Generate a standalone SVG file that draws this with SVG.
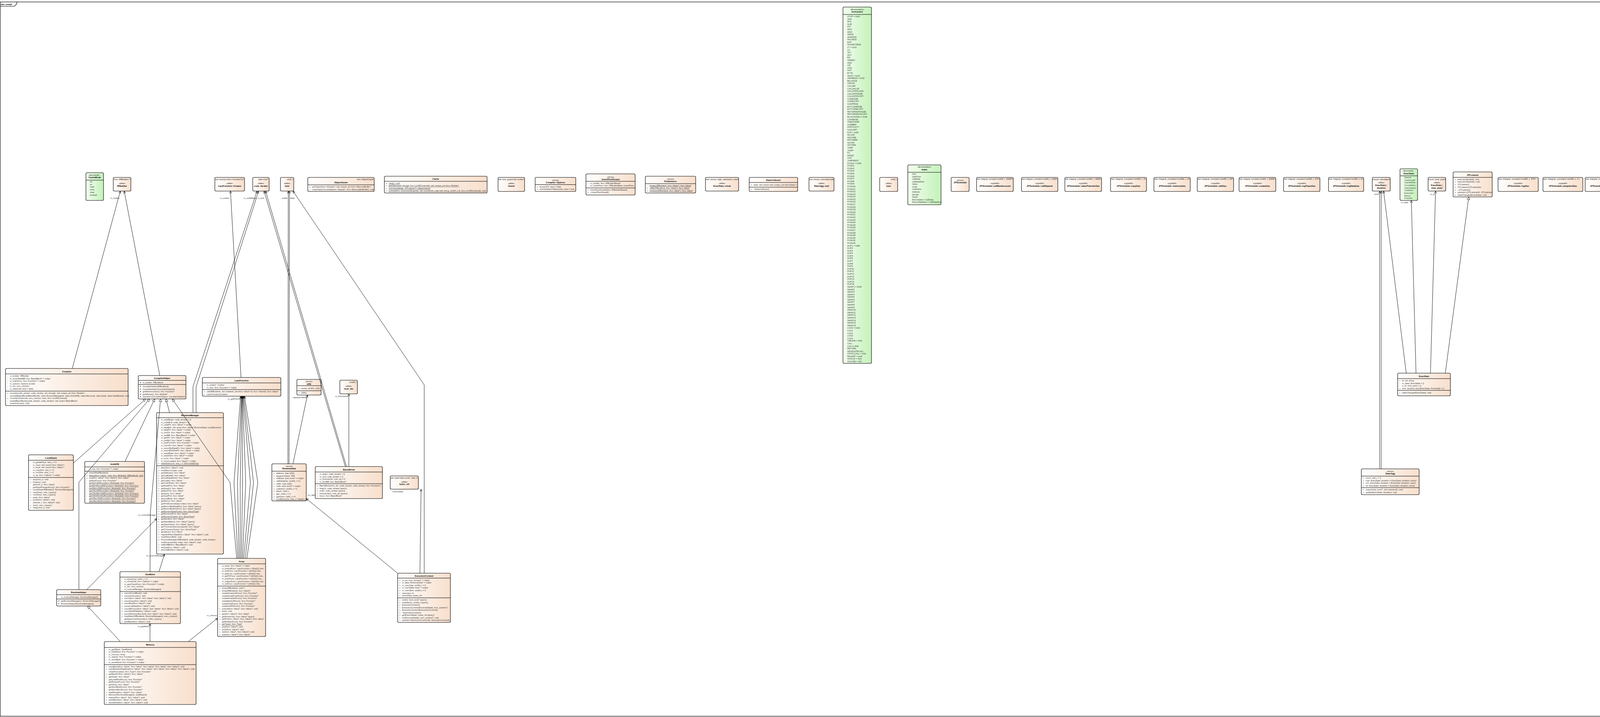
<svg xmlns="http://www.w3.org/2000/svg" width="6533" height="1835" viewBox="0 0 6533 1835">
<defs>
<linearGradient id="gc" x1="0" y1="0" x2="1" y2="0"><stop offset="0" stop-color="#ffffff"/><stop offset="1" stop-color="#f8dfcc"/></linearGradient>
<linearGradient id="ge" x1="0" y1="0" x2="1" y2="0"><stop offset="0" stop-color="#f2fdef"/><stop offset="1" stop-color="#c4f2b9"/></linearGradient>
<marker id="oa" viewBox="0 0 10 10" refX="10" refY="5" markerWidth="6.5" markerHeight="6.5" orient="auto" markerUnits="userSpaceOnUse"><path d="M0.5,0.8L10,5L0.5,9.2" fill="none" stroke="#000" stroke-width="1.4"/></marker>
<marker id="tri" viewBox="0 0 10 10" refX="10" refY="5" markerWidth="7.5" markerHeight="7.5" orient="auto" markerUnits="userSpaceOnUse"><path d="M0.6,0.6L10,5L0.6,9.4Z" fill="#fff" stroke="#000" stroke-width="1.1"/></marker>
</defs>
<style>
text{font-family:"Liberation Sans",Arial,sans-serif}
.c{fill:url(#gc);stroke:#000;stroke-width:1.1}
.e{fill:url(#ge);stroke:#000;stroke-width:1.1}
.d{stroke:#000;stroke-width:1;fill:none}
.m{font-size:5.4px;fill:#3a3a3a}
.n{font-size:5.6px;font-weight:bold;text-anchor:middle;fill:#000}
.s{font-size:5.2px;text-anchor:middle;fill:#222}
.t{font-size:5.2px;font-style:italic;text-anchor:end;fill:#222}
.tl{font-size:5.2px;font-style:italic;fill:#222}
.u{text-decoration:underline}
.i{font-style:italic}
.k{stroke:#000;stroke-width:0.9;fill:none}
.oa{marker-end:url(#oa)}
.tr{marker-end:url(#tri)}
.l{font-size:5.2px;fill:#3a3a3a}
.lr{font-size:5.2px;fill:#3a3a3a;text-anchor:end}
</style>
<rect x="0.5" y="5" width="6526" height="1828" fill="#fff" stroke="#000" stroke-width="1.2"/>
<path d="M0.5,16H37L43,10V5" fill="none" stroke="#000" stroke-width="1.1"/>
<text x="2" y="12.8" font-size="5.4" font-weight="bold" fill="#000" font-family="Liberation Sans, Arial, sans-serif">dev::evmjit</text>

<g id="nodes">
<g id="n-CacheMode" transform="translate(220,442)"><rect class="e" width="45" height="71" rx="3"/><text class="s" x="22.5" y="7.5">«Enumerati...</text><text class="n" x="22.5" y="13.5">CacheMode</text><path class="d" d="M0,19H45"/><text class="m"><tspan x="10" y="25">off</tspan><tspan x="10" dy="6.7">on</tspan><tspan x="10" dy="6.7">read</tspan><tspan x="10" dy="6.7">write</tspan><tspan x="10" dy="6.7">clear</tspan><tspan x="10" dy="6.7">preload</tspan></text></g>

<g id="n-IRBuilder" transform="translate(290,454)"><rect class="c" width="45" height="35" rx="3"/><text class="tl" x="1.5" y="6.5" textLength="42" lengthAdjust="spacingAndGlyphs">llvm::IRBuilder&lt;&gt;</text><text class="s" x="22.5" y="17">«alias»</text><text class="n" x="22.5" y="23.5">IRBuilder</text></g>

<g id="n-LazyFunction-Creator" transform="translate(550,454)"><rect class="c" width="76" height="35" rx="3"/><text class="tl" x="1" y="6.5" textLength="74" lengthAdjust="spacingAndGlyphs">std::function&lt;llvm::Function*()&gt;</text><text class="s" x="38" y="17">«alias»</text><text class="n" x="38" y="23.5">LazyFunction::Creator</text></g>

<g id="n-code_iterator" transform="translate(647,454)"><rect class="c" width="42" height="35" rx="3"/><text class="t" x="40" y="6.5">byte const*</text><text class="s" x="21" y="17">«alias»</text><text class="n" x="21" y="23.5">code_iterator</text></g>

<g id="n-byte" transform="translate(718,454)"><rect class="c" width="34" height="35" rx="3"/><text class="t" x="32" y="6.5">uint8_t</text><text class="s" x="17" y="17">«alias»</text><text class="n" x="17" y="23.5">byte</text></g>

<g id="n-ObjectCache" transform="translate(788,454)"><rect class="c" width="170" height="36" rx="3"/><text class="t" x="168" y="6.5">llvm::ObjectCache</text><text class="n" x="85" y="14.5">ObjectCache</text><path class="d" d="M0,19H170"/><text class="m"><tspan x="4" y="26">+</tspan><tspan x="11" class="i">getObject(llvm::Module*): std::unique_ptr&lt;llvm::MemoryBuffer&gt;</tspan><tspan x="4" dy="7">+</tspan><tspan x="11" class="i">notifyObjectCompiled(llvm::Module*, llvm::MemoryBufferRef): void</tspan></text></g>

<g id="n-Cache" transform="translate(984,451)"><rect class="c" width="263" height="43" rx="3"/><text class="n" x="131.5" y="8.5">Cache</text><path class="d" d="M0,13H263"/><text class="m"><tspan x="4" y="20">+</tspan><tspan x="11" class="u">clear(): void</tspan><tspan x="4" dy="6.35">+</tspan><tspan x="11" class="u">getObject(std::string&amp;, llvm::LLVMContext&amp;): std::unique_ptr&lt;llvm::Module&gt;</tspan><tspan x="4" dy="6.35">+</tspan><tspan x="11" class="u">init(CacheMode, JITListener*): ObjectCache*</tspan><tspan x="4" dy="6.35">+</tspan><tspan x="11" class="u">preload(llvm::ExecutionEngine&amp;, std::unordered_map&lt;std::string, uint64_t&gt;&amp;, llvm::LLVMContext&amp;): void</tspan></text></g>

<g id="n-Guard" transform="translate(1275,454)"><rect class="c" width="68" height="36" rx="3"/><text class="tl" x="1" y="6.5" textLength="66" lengthAdjust="spacingAndGlyphs">std::lock_guard&lt;std::mutex&gt;</text><text class="s" x="34" y="17">«alias»</text><text class="n" x="34" y="23.5">Guard</text></g>

<g id="n-Compiler-Options" transform="translate(1370,454)"><rect class="c" width="104" height="36" rx="3"/><text class="s" x="52" y="9">«struct»</text><text class="n" x="52" y="15">Compiler::Options</text><path class="d" d="M0,18.5H104"/><text class="m"><tspan x="4" y="25.5">+</tspan><tspan x="11">dumpCFG: bool = false</tspan><tspan x="4" dy="6.3">+</tspan><tspan x="11">rewriteSwitchToBranches: bool = true</tspan></text></g>

<g id="n-InsertPointGuard" transform="translate(1500,445)"><rect class="c" width="126" height="54" rx="3"/><text class="s" x="63" y="9.5">«struct»</text><text class="n" x="63" y="15.5">InsertPointGuard</text><path class="d" d="M0,19H126M0,36H126"/><text class="m"><tspan x="4" y="26">-</tspan><tspan x="11">m_builder: llvm::IRBuilderBase&amp;</tspan><tspan x="4" dy="6.3">-</tspan><tspan x="11">m_insertPoint: llvm::IRBuilderBase::InsertPoint</tspan><tspan x="4" y="43">+</tspan><tspan x="11">InsertPointGuard(llvm::IRBuilderBase&amp;)</tspan><tspan x="4" dy="6.3">+</tspan><tspan x="11">~InsertPointGuard()</tspan></text></g>

<g id="n-Endianness" transform="translate(1652,451)"><rect class="c" width="129" height="43" rx="3"/><text class="s" x="64.5" y="8.5">«struct»</text><text class="n" x="64.5" y="14.5">Endianness</text><path class="d" d="M0,19H129"/><text class="m"><tspan x="4" y="25.5">-</tspan><tspan x="11" class="u">bswap(IRBuilder&amp;, llvm::Value*): llvm::Value*</tspan><tspan x="4" dy="6.6">+</tspan><tspan x="11" class="u">toBE(IRBuilder&amp;, llvm::Value*): llvm::Value*</tspan><tspan x="4" dy="6.6">+</tspan><tspan x="11" class="u">toNative(IRBuilder&amp;, llvm::Value*): llvm::Value*</tspan></text></g>

<g id="n-ExecStats-clock" transform="translate(1806,454)"><rect class="c" width="85" height="35" rx="3"/><text class="tl" x="1" y="6.5" textLength="83" lengthAdjust="spacingAndGlyphs">std::chrono::high_resolution_clock</text><text class="s" x="42.5" y="17">«alias»</text><text class="n" x="42.5" y="23.5">ExecStats::clock</text></g>

<g id="n-StatsCollector" transform="translate(1918,454)"><rect class="c" width="124" height="36" rx="3"/><text class="n" x="62" y="9">StatsCollector</text><path class="d" d="M0,13H124M0,25H124"/><text class="m"><tspan x="4" y="21">+</tspan><tspan x="11">stats: std::vector&lt;std::unique_ptr&lt;ExecStats&gt;&gt;</tspan><tspan x="4" y="32">+</tspan><tspan x="11">~StatsCollector()</tspan></text></g>

<g id="n-StatsAgg-unit" transform="translate(2071,454)"><rect class="c" width="64" height="35" rx="3"/><text class="tl" x="1" y="6.5" textLength="62" lengthAdjust="spacingAndGlyphs">std::chrono::microseconds</text><text class="s" x="32" y="17">«alias»</text><text class="n" x="32" y="23.5">StatsAgg::unit</text></g>

<g id="n-Instruction" transform="translate(2158,18)"><rect class="e" width="73" height="912" rx="3"/><text class="s" x="36.5" y="8">«Enumeration»</text><text class="n" x="36.5" y="14">Instruction</text><path class="d" d="M0,19H73"/><text class="m"><tspan x="11" y="26">STOP = 0x00</tspan><tspan x="11" dy="6.59">ADD</tspan><tspan x="11" dy="6.59">MUL</tspan><tspan x="11" dy="6.59">SUB</tspan><tspan x="11" dy="6.59">DIV</tspan><tspan x="11" dy="6.59">SDIV</tspan><tspan x="11" dy="6.59">MOD</tspan><tspan x="11" dy="6.59">SMOD</tspan><tspan x="11" dy="6.59">ADDMOD</tspan><tspan x="11" dy="6.59">MULMOD</tspan><tspan x="11" dy="6.59">EXP</tspan><tspan x="11" dy="6.59">SIGNEXTEND</tspan><tspan x="11" dy="6.59">LT = 0x10</tspan><tspan x="11" dy="6.59">GT</tspan><tspan x="11" dy="6.59">SLT</tspan><tspan x="11" dy="6.59">SGT</tspan><tspan x="11" dy="6.59">EQ</tspan><tspan x="11" dy="6.59">ISZERO</tspan><tspan x="11" dy="6.59">AND</tspan><tspan x="11" dy="6.59">OR</tspan><tspan x="11" dy="6.59">XOR</tspan><tspan x="11" dy="6.59">NOT</tspan><tspan x="11" dy="6.59">BYTE</tspan><tspan x="11" dy="6.59">SHA3 = 0x20</tspan><tspan x="11" dy="6.59">ADDRESS = 0x30</tspan><tspan x="11" dy="6.59">BALANCE</tspan><tspan x="11" dy="6.59">ORIGIN</tspan><tspan x="11" dy="6.59">CALLER</tspan><tspan x="11" dy="6.59">CALLVALUE</tspan><tspan x="11" dy="6.59">CALLDATALOAD</tspan><tspan x="11" dy="6.59">CALLDATASIZE</tspan><tspan x="11" dy="6.59">CALLDATACOPY</tspan><tspan x="11" dy="6.59">CODESIZE</tspan><tspan x="11" dy="6.59">CODECOPY</tspan><tspan x="11" dy="6.59">GASPRICE</tspan><tspan x="11" dy="6.59">EXTCODESIZE</tspan><tspan x="11" dy="6.59">EXTCODECOPY</tspan><tspan x="11" dy="6.59">RETURNDATASIZE</tspan><tspan x="11" dy="6.59">RETURNDATACOPY</tspan><tspan x="11" dy="6.59">BLOCKHASH = 0x40</tspan><tspan x="11" dy="6.59">COINBASE</tspan><tspan x="11" dy="6.59">TIMESTAMP</tspan><tspan x="11" dy="6.59">NUMBER</tspan><tspan x="11" dy="6.59">DIFFICULTY</tspan><tspan x="11" dy="6.59">GASLIMIT</tspan><tspan x="11" dy="6.59">POP = 0x50</tspan><tspan x="11" dy="6.59">MLOAD</tspan><tspan x="11" dy="6.59">MSTORE</tspan><tspan x="11" dy="6.59">MSTORE8</tspan><tspan x="11" dy="6.59">SLOAD</tspan><tspan x="11" dy="6.59">SSTORE</tspan><tspan x="11" dy="6.59">JUMP</tspan><tspan x="11" dy="6.59">JUMPI</tspan><tspan x="11" dy="6.59">PC</tspan><tspan x="11" dy="6.59">MSIZE</tspan><tspan x="11" dy="6.59">GAS</tspan><tspan x="11" dy="6.59">JUMPDEST</tspan><tspan x="11" dy="6.59">PUSH1 = 0x60</tspan><tspan x="11" dy="6.59">PUSH2</tspan><tspan x="11" dy="6.59">PUSH3</tspan><tspan x="11" dy="6.59">PUSH4</tspan><tspan x="11" dy="6.59">PUSH5</tspan><tspan x="11" dy="6.59">PUSH6</tspan><tspan x="11" dy="6.59">PUSH7</tspan><tspan x="11" dy="6.59">PUSH8</tspan><tspan x="11" dy="6.59">PUSH9</tspan><tspan x="11" dy="6.59">PUSH10</tspan><tspan x="11" dy="6.59">PUSH11</tspan><tspan x="11" dy="6.59">PUSH12</tspan><tspan x="11" dy="6.59">PUSH13</tspan><tspan x="11" dy="6.59">PUSH14</tspan><tspan x="11" dy="6.59">PUSH15</tspan><tspan x="11" dy="6.59">PUSH16</tspan><tspan x="11" dy="6.59">PUSH17</tspan><tspan x="11" dy="6.59">PUSH18</tspan><tspan x="11" dy="6.59">PUSH19</tspan><tspan x="11" dy="6.59">PUSH20</tspan><tspan x="11" dy="6.59">PUSH21</tspan><tspan x="11" dy="6.59">PUSH22</tspan><tspan x="11" dy="6.59">PUSH23</tspan><tspan x="11" dy="6.59">PUSH24</tspan><tspan x="11" dy="6.59">PUSH25</tspan><tspan x="11" dy="6.59">PUSH26</tspan><tspan x="11" dy="6.59">PUSH27</tspan><tspan x="11" dy="6.59">PUSH28</tspan><tspan x="11" dy="6.59">PUSH29</tspan><tspan x="11" dy="6.59">PUSH30</tspan><tspan x="11" dy="6.59">PUSH31</tspan><tspan x="11" dy="6.59">PUSH32</tspan><tspan x="11" dy="6.59">DUP1 = 0x80</tspan><tspan x="11" dy="6.59">DUP2</tspan><tspan x="11" dy="6.59">DUP3</tspan><tspan x="11" dy="6.59">DUP4</tspan><tspan x="11" dy="6.59">DUP5</tspan><tspan x="11" dy="6.59">DUP6</tspan><tspan x="11" dy="6.59">DUP7</tspan><tspan x="11" dy="6.59">DUP8</tspan><tspan x="11" dy="6.59">DUP9</tspan><tspan x="11" dy="6.59">DUP10</tspan><tspan x="11" dy="6.59">DUP11</tspan><tspan x="11" dy="6.59">DUP12</tspan><tspan x="11" dy="6.59">DUP13</tspan><tspan x="11" dy="6.59">DUP14</tspan><tspan x="11" dy="6.59">DUP15</tspan><tspan x="11" dy="6.59">DUP16</tspan><tspan x="11" dy="6.59">SWAP1 = 0x90</tspan><tspan x="11" dy="6.59">SWAP2</tspan><tspan x="11" dy="6.59">SWAP3</tspan><tspan x="11" dy="6.59">SWAP4</tspan><tspan x="11" dy="6.59">SWAP5</tspan><tspan x="11" dy="6.59">SWAP6</tspan><tspan x="11" dy="6.59">SWAP7</tspan><tspan x="11" dy="6.59">SWAP8</tspan><tspan x="11" dy="6.59">SWAP9</tspan><tspan x="11" dy="6.59">SWAP10</tspan><tspan x="11" dy="6.59">SWAP11</tspan><tspan x="11" dy="6.59">SWAP12</tspan><tspan x="11" dy="6.59">SWAP13</tspan><tspan x="11" dy="6.59">SWAP14</tspan><tspan x="11" dy="6.59">SWAP15</tspan><tspan x="11" dy="6.59">SWAP16</tspan><tspan x="11" dy="6.59">LOG0 = 0xa0</tspan><tspan x="11" dy="6.59">LOG1</tspan><tspan x="11" dy="6.59">LOG2</tspan><tspan x="11" dy="6.59">LOG3</tspan><tspan x="11" dy="6.59">LOG4</tspan><tspan x="11" dy="6.59">CREATE = 0xf0</tspan><tspan x="11" dy="6.59">CALL</tspan><tspan x="11" dy="6.59">CALLCODE</tspan><tspan x="11" dy="6.59">RETURN</tspan><tspan x="11" dy="6.59">DELEGATECALL</tspan><tspan x="11" dy="6.59">STATICCALL = 0xfa</tspan><tspan x="11" dy="6.59">REVERT = 0xfd</tspan><tspan x="11" dy="6.59">INVALID = 0xfe</tspan><tspan x="11" dy="6.59">SUICIDE = 0xff</tspan></text></g>

<g id="n-byte2" transform="translate(2252,454)"><rect class="c" width="46" height="36" rx="3"/><text class="t" x="44" y="6.5">uint8_t</text><text class="s" x="23" y="17">«alias»</text><text class="n" x="23" y="23.5">byte</text></g>

<g id="n-Index" transform="translate(2324,422)"><rect class="e" width="85" height="102" rx="3"/><text class="s" x="42.5" y="7">«Enumeration»</text><text class="n" x="42.5" y="14">Index</text><path class="d" d="M0,19H85"/><text class="m"><tspan x="11" y="25">Gas</tspan><tspan x="11" dy="6.58">GasPrice</tspan><tspan x="11" dy="6.58">CallData</tspan><tspan x="11" dy="6.58">CallDataSize</tspan><tspan x="11" dy="6.58">Value</tspan><tspan x="11" dy="6.58">Code</tspan><tspan x="11" dy="6.58">CodeSize</tspan><tspan x="11" dy="6.58">Address</tspan><tspan x="11" dy="6.58">Sender</tspan><tspan x="11" dy="6.58">Depth</tspan><tspan x="11" dy="6.58">ReturnData = CallData</tspan><tspan x="11" dy="6.58">ReturnDataSize = CallDataSize</tspan></text></g>

<g id="n-JITSchedule" transform="translate(2435,454)"><rect class="c" width="46" height="36" rx="3"/><text class="s" x="23" y="9">«struct»</text><text class="n" x="23" y="14.5">JITSchedule</text></g>

<g id="n-callNewAccount" transform="translate(2500,454)"><rect class="c" width="94" height="36" rx="3"/><text class="tl" x="1" y="6" textLength="92" lengthAdjust="spacingAndGlyphs">std::integral_constant&lt;uint64_t, 25000&gt;</text><text class="s" x="47" y="17">«typedef»</text><text class="n" x="47" y="23.5">JITSchedule::callNewAccount</text></g>
<g id="n-callStipend" transform="translate(2615,454)"><rect class="c" width="93" height="36" rx="3"/><text class="tl" x="1" y="6" textLength="91" lengthAdjust="spacingAndGlyphs">std::integral_constant&lt;uint64_t, 2300&gt;</text><text class="s" x="46.5" y="17">«typedef»</text><text class="n" x="46.5" y="23.5">JITSchedule::callStipend</text></g>
<g id="n-valueTransferGas" transform="translate(2726,454)"><rect class="c" width="94" height="36" rx="3"/><text class="tl" x="1" y="6" textLength="92" lengthAdjust="spacingAndGlyphs">std::integral_constant&lt;uint64_t, 9000&gt;</text><text class="s" x="47" y="17">«typedef»</text><text class="n" x="47" y="23.5">JITSchedule::valueTransferGas</text></g>
<g id="n-copyGas" transform="translate(2843,454)"><rect class="c" width="92" height="36" rx="3"/><text class="tl" x="1" y="6" textLength="90" lengthAdjust="spacingAndGlyphs">std::integral_constant&lt;uint64_t, 3&gt;</text><text class="s" x="46" y="17">«typedef»</text><text class="n" x="46" y="23.5">JITSchedule::copyGas</text></g>
<g id="n-memoryGas" transform="translate(2954,454)"><rect class="c" width="93" height="36" rx="3"/><text class="tl" x="1" y="6" textLength="91" lengthAdjust="spacingAndGlyphs">std::integral_constant&lt;uint64_t, 3&gt;</text><text class="s" x="46.5" y="17">«typedef»</text><text class="n" x="46.5" y="23.5">JITSchedule::memoryGas</text></g>
<g id="n-callGas" transform="translate(3065,454)"><rect class="c" width="93" height="36" rx="3"/><text class="tl" x="1" y="6" textLength="91" lengthAdjust="spacingAndGlyphs">std::integral_constant&lt;uint64_t, 40&gt;</text><text class="s" x="46.5" y="17">«typedef»</text><text class="n" x="46.5" y="23.5">JITSchedule::callGas</text></g>
<g id="n-createGas" transform="translate(3172,454)"><rect class="c" width="94" height="36" rx="3"/><text class="tl" x="1" y="6" textLength="92" lengthAdjust="spacingAndGlyphs">std::integral_constant&lt;uint64_t, 32000&gt;</text><text class="s" x="47" y="17">«typedef»</text><text class="n" x="47" y="23.5">JITSchedule::createGas</text></g>
<g id="n-logTopicGas" transform="translate(3286,454)"><rect class="c" width="93" height="36" rx="3"/><text class="tl" x="1" y="6" textLength="91" lengthAdjust="spacingAndGlyphs">std::integral_constant&lt;uint64_t, 375&gt;</text><text class="s" x="46.5" y="17">«typedef»</text><text class="n" x="46.5" y="23.5">JITSchedule::logTopicGas</text></g>
<g id="n-logDataGas" transform="translate(3401,454)"><rect class="c" width="90" height="36" rx="3"/><text class="tl" x="1" y="6" textLength="88" lengthAdjust="spacingAndGlyphs">std::integral_constant&lt;uint64_t, 8&gt;</text><text class="s" x="45" y="17">«typedef»</text><text class="n" x="45" y="23.5">JITSchedule::logDataGas</text></g>

<g id="n-ExecStats-duration" transform="translate(3513,454)"><rect class="c" width="46" height="35" rx="3"/><text class="tl" x="1" y="6.5" textLength="44" lengthAdjust="spacingAndGlyphs">clock::duration</text><text class="s" x="23" y="15">«alias»</text><text class="n" x="23" y="21.5">ExecStats::</text><text class="n" x="23" y="28.5">duration</text></g>

<g id="n-ExecState" transform="translate(3584,432)"><rect class="e" width="45" height="81" rx="3"/><text class="s" x="22.5" y="7">«Enumerati...</text><text class="n" x="22.5" y="14">ExecState</text><path class="d" d="M0,18H45"/><text class="m"><tspan x="11" y="24">Started</tspan><tspan x="11" dy="6.67">CacheLoad</tspan><tspan x="11" dy="6.67">CacheWrite</tspan><tspan x="11" dy="6.67">Compilation</tspan><tspan x="11" dy="6.67">Optimization</tspan><tspan x="11" dy="6.67">CodeGen</tspan><tspan x="11" dy="6.67">Execution</tspan><tspan x="11" dy="6.67">Return</tspan><tspan x="11" dy="6.67">Finished</tspan></text></g>

<g id="n-ExecStats-time_point" transform="translate(3656,454)"><rect class="c" width="45" height="35" rx="3"/><text class="tl" x="1" y="6.5" textLength="43" lengthAdjust="spacingAndGlyphs">clock::time_point</text><text class="s" x="22.5" y="15">«alias»</text><text class="n" x="22.5" y="21.5">ExecStats::</text><text class="n" x="22.5" y="28.5">time_point</text></g>

<g id="n-JITListener" transform="translate(3720,440)"><rect class="c" width="100" height="64" rx="3"/><text class="n" x="50" y="10">JITListener</text><path class="d" d="M0,14H100"/><text class="m"><tspan x="4" y="20.5">+</tspan><tspan x="11" class="i">executionEnded(): void</tspan><tspan x="4" dy="6.75">+</tspan><tspan x="11" class="i">executionStarted(): void</tspan><tspan x="4" dy="6.75">+</tspan><tspan x="11" class="i">JITListener()</tspan><tspan x="4" dy="6.75">+</tspan><tspan x="11" class="i">JITListener(JITListener&amp;)</tspan><tspan x="4" dy="6.75">+</tspan><tspan x="11" class="i">~JITListener()</tspan><tspan x="4" dy="6.75">+</tspan><tspan x="11" class="i">operator=(JITListener&amp;): JITListener&amp;</tspan><tspan x="4" dy="6.75">+</tspan><tspan x="11" class="i">stateChanged(ExecState): void</tspan></text></g>

<g id="n-logGas" transform="translate(3835,454)"><rect class="c" width="103" height="36" rx="3"/><text class="tl" x="1" y="6" textLength="96" lengthAdjust="spacingAndGlyphs">std::integral_constant&lt;uint64_t, 375&gt;</text><text class="s" x="51.5" y="17">«typedef»</text><text class="n" x="51.5" y="23.5">JITSchedule::logGas</text></g>
<g id="n-jumpdestGas" transform="translate(3950,454)"><rect class="c" width="102" height="36" rx="3"/><text class="tl" x="1" y="6" textLength="93" lengthAdjust="spacingAndGlyphs">std::integral_constant&lt;uint64_t, 1&gt;</text><text class="s" x="51" y="17">«typedef»</text><text class="n" x="51" y="23.5">JITSchedule::jumpdestGas</text></g>
<g id="n-sstoreClearGas" transform="translate(4058,454)"><rect class="c" width="103" height="36" rx="3"/><text class="tl" x="1" y="6" textLength="97" lengthAdjust="spacingAndGlyphs">std::integral_constant&lt;uint64_t, 5000&gt;</text><text class="s" x="51.5" y="17">«typedef»</text><text class="n" x="51.5" y="23.5">JITSchedule::sstoreClearGas</text></g>
<g id="n-sstoreResetGas" transform="translate(4170,454)"><rect class="c" width="94" height="36" rx="3"/><text class="tl" x="1" y="6" textLength="92" lengthAdjust="spacingAndGlyphs">std::integral_constant&lt;uint64_t, 5000&gt;</text><text class="s" x="47" y="17">«typedef»</text><text class="n" x="47" y="23.5">JITSchedule::sstoreResetGas</text></g>
<g id="n-sstoreSetGas" transform="translate(4280,454)"><rect class="c" width="100" height="36" rx="3"/><text class="tl" x="1" y="6" textLength="98" lengthAdjust="spacingAndGlyphs">std::integral_constant&lt;uint64_t, 20000&gt;</text><text class="s" x="50" y="17">«typedef»</text><text class="n" x="50" y="23.5">JITSchedule::sstoreSetGas</text></g>
<g id="n-sloadGas" transform="translate(4396,454)"><rect class="c" width="100" height="36" rx="3"/><text class="tl" x="1" y="6" textLength="94" lengthAdjust="spacingAndGlyphs">std::integral_constant&lt;uint64_t, 50&gt;</text><text class="s" x="50" y="17">«typedef»</text><text class="n" x="50" y="23.5">JITSchedule::sloadGas</text></g>
<g id="n-sha3WordGas" transform="translate(4510,454)"><rect class="c" width="85" height="36" rx="3"/><text class="tl" x="1" y="6" textLength="83" lengthAdjust="spacingAndGlyphs">std::integral_constant&lt;uint64_t, 6&gt;</text><text class="s" x="42.5" y="17">«typedef»</text><text class="n" x="42.5" y="23.5">JITSchedule::sha3WordGas</text></g>
<g id="n-sha3Gas" transform="translate(4620,454)"><rect class="c" width="87" height="36" rx="3"/><text class="tl" x="1" y="6" textLength="85" lengthAdjust="spacingAndGlyphs">std::integral_constant&lt;uint64_t, 30&gt;</text><text class="s" x="43.5" y="17">«typedef»</text><text class="n" x="43.5" y="23.5">JITSchedule::sha3Gas</text></g>
<g id="n-expByteGas" transform="translate(4732,454)"><rect class="c" width="87" height="36" rx="3"/><text class="tl" x="1" y="6" textLength="85" lengthAdjust="spacingAndGlyphs">std::integral_constant&lt;uint64_t, 10&gt;</text><text class="s" x="43.5" y="17">«typedef»</text><text class="n" x="43.5" y="23.5">JITSchedule::expByteGas</text></g>
<g id="n-stepGas7" transform="translate(4845,454)"><rect class="c" width="85" height="36" rx="3"/><text class="tl" x="1" y="6" textLength="83" lengthAdjust="spacingAndGlyphs">std::integral_constant&lt;uint64_t, 0&gt;</text><text class="s" x="42.5" y="17">«typedef»</text><text class="n" x="42.5" y="23.5">JITSchedule::stepGas7</text></g>
<g id="n-stepGas6" transform="translate(4956,454)"><rect class="c" width="87" height="36" rx="3"/><text class="tl" x="1" y="6" textLength="85" lengthAdjust="spacingAndGlyphs">std::integral_constant&lt;uint64_t, 20&gt;</text><text class="s" x="43.5" y="17">«typedef»</text><text class="n" x="43.5" y="23.5">JITSchedule::stepGas6</text></g>
<g id="n-stepGas5" transform="translate(5067,454)"><rect class="c" width="87" height="36" rx="3"/><text class="tl" x="1" y="6" textLength="85" lengthAdjust="spacingAndGlyphs">std::integral_constant&lt;uint64_t, 10&gt;</text><text class="s" x="43.5" y="17">«typedef»</text><text class="n" x="43.5" y="23.5">JITSchedule::stepGas5</text></g>
<g id="n-stepGas4" transform="translate(5181,454)"><rect class="c" width="85" height="36" rx="3"/><text class="tl" x="1" y="6" textLength="83" lengthAdjust="spacingAndGlyphs">std::integral_constant&lt;uint64_t, 8&gt;</text><text class="s" x="42.5" y="17">«typedef»</text><text class="n" x="42.5" y="23.5">JITSchedule::stepGas4</text></g>
<g id="n-stepGas3" transform="translate(5293,454)"><rect class="c" width="84" height="36" rx="3"/><text class="tl" x="1" y="6" textLength="82" lengthAdjust="spacingAndGlyphs">std::integral_constant&lt;uint64_t, 5&gt;</text><text class="s" x="42" y="17">«typedef»</text><text class="n" x="42" y="23.5">JITSchedule::stepGas3</text></g>
<g id="n-stepGas2" transform="translate(5405,454)"><rect class="c" width="84" height="36" rx="3"/><text class="tl" x="1" y="6" textLength="82" lengthAdjust="spacingAndGlyphs">std::integral_constant&lt;uint64_t, 3&gt;</text><text class="s" x="42" y="17">«typedef»</text><text class="n" x="42" y="23.5">JITSchedule::stepGas2</text></g>
<g id="n-stepGas1" transform="translate(5516,454)"><rect class="c" width="85" height="36" rx="3"/><text class="tl" x="1" y="6" textLength="83" lengthAdjust="spacingAndGlyphs">std::integral_constant&lt;uint64_t, 2&gt;</text><text class="s" x="42.5" y="17">«typedef»</text><text class="n" x="42.5" y="23.5">JITSchedule::stepGas1</text></g>
<g id="n-stepGas0" transform="translate(5629,454)"><rect class="c" width="84" height="36" rx="3"/><text class="tl" x="1" y="6" textLength="82" lengthAdjust="spacingAndGlyphs">std::integral_constant&lt;uint64_t, 0&gt;</text><text class="s" x="42" y="17">«typedef»</text><text class="n" x="42" y="23.5">JITSchedule::stepGas0</text></g>
<g id="n-stackLimit" transform="translate(5735,454)"><rect class="c" width="93" height="36" rx="3"/><text class="tl" x="1" y="6" textLength="91" lengthAdjust="spacingAndGlyphs">std::integral_constant&lt;uint64_t, 1024&gt;</text><text class="s" x="46.5" y="17">«typedef»</text><text class="n" x="46.5" y="23.5">JITSchedule::stackLimit</text></g>

<g id="n-ReturnCode" transform="translate(5854,441)"><rect class="e" width="80" height="62" rx="3"/><text class="s" x="40" y="8">«Enumeration»</text><text class="n" x="40" y="14">ReturnCode</text><path class="d" d="M0,19H80"/><text class="m"><tspan x="11" y="26">Stop = 0</tspan><tspan x="11" dy="6.4">Return = 1</tspan><tspan x="11" dy="6.4">Revert = 2</tspan><tspan x="11" dy="6.4">OutOfGas = -1</tspan><tspan x="11" dy="6.4">LLVMError = -101</tspan><tspan x="11" dy="6.4">UnexpectedException = -111</tspan></text></g>

<g id="n-LongJmpEliminationPass" transform="translate(5966,449)"><rect class="c" width="102" height="46" rx="3"/><text class="t" x="100" y="6">llvm::FunctionPass</text><text class="n" x="51" y="15">LongJmpEliminationPass</text><path class="d" d="M0,19H102M0,29H102"/><text class="m"><tspan x="4" y="26">+</tspan><tspan x="11" class="u">ID: char</tspan><tspan x="4" y="36">+</tspan><tspan x="11">LongJmpEliminationPass()</tspan><tspan x="4" dy="6.6">+</tspan><tspan x="11">runOnFunction(llvm::Function&amp;): bool</tspan></text></g>

<g id="n-LowerEVMPass" transform="translate(6094,445)"><rect class="c" width="109" height="50" rx="3"/><text class="t" x="107" y="7">llvm::BasicBlockPass</text><text class="n" x="54.5" y="15">LowerEVMPass</text><path class="d" d="M0,19H109M0,29H109"/><text class="m"><tspan x="4" y="26">+</tspan><tspan x="11" class="u">ID: char</tspan><tspan x="4" y="35.5">+</tspan><tspan x="11">doFinalization(llvm::Module&amp;): bool</tspan><tspan x="4" dy="6">+</tspan><tspan x="11">LowerEVMPass()</tspan><tspan x="4" dy="6">+</tspan><tspan x="11">runOnBasicBlock(llvm::BasicBlock&amp;): bool</tspan></text></g>

<g id="n-Type" transform="translate(6222,409)"><rect class="c" width="99" height="137" rx="3"/><text class="s" x="49.5" y="8">«struct»</text><text class="n" x="49.5" y="15">Type</text><path class="d" d="M0,19H99M0,125H99"/><text class="m"><tspan x="4" y="26">+</tspan><tspan x="11" class="u">Bool: llvm::IntegerType*</tspan><tspan x="4" dy="7.3">+</tspan><tspan x="11" class="u">Byte: llvm::IntegerType*</tspan><tspan x="4" dy="7.3">+</tspan><tspan x="11" class="u">BytePtr: llvm::PointerType*</tspan><tspan x="4" dy="7.3">+</tspan><tspan x="11" class="u">EnvPtr: llvm::PointerType*</tspan><tspan x="4" dy="7.3">+</tspan><tspan x="11" class="u">expect: llvm::MDNode*</tspan><tspan x="4" dy="7.3">+</tspan><tspan x="11" class="u">Gas: llvm::IntegerType*</tspan><tspan x="4" dy="7.3">+</tspan><tspan x="11" class="u">GasPtr: llvm::PointerType*</tspan><tspan x="4" dy="7.3">+</tspan><tspan x="11" class="u">MainReturn: llvm::IntegerType*</tspan><tspan x="4" dy="7.3">+</tspan><tspan x="11" class="u">RuntimeDataPtr: llvm::PointerType*</tspan><tspan x="4" dy="7.3">+</tspan><tspan x="11" class="u">RuntimePtr: llvm::PointerType*</tspan><tspan x="4" dy="7.3">+</tspan><tspan x="11" class="u">Size: llvm::IntegerType*</tspan><tspan x="4" dy="7.3">+</tspan><tspan x="11" class="u">Void: llvm::Type*</tspan><tspan x="4" dy="7.3">+</tspan><tspan x="11" class="u">Word: llvm::IntegerType*</tspan><tspan x="4" dy="7.3">+</tspan><tspan x="11" class="u">WordPtr: llvm::PointerType*</tspan><tspan x="4" y="132">+</tspan><tspan x="11" class="u">init(llvm::LLVMContext&amp;): void</tspan></text></g>

<g id="n-Constant" transform="translate(6332,445)"><rect class="c" width="96" height="53" rx="3"/><text class="s" x="48" y="9">«struct»</text><text class="n" x="48" y="15">Constant</text><path class="d" d="M0,18H96M0,28H96"/><text class="m"><tspan x="4" y="25">+</tspan><tspan x="11" class="u">gasMax: llvm::ConstantInt*</tspan><tspan x="4" y="36">+</tspan><tspan x="11" class="u">get(int64_t): llvm::ConstantInt*</tspan><tspan x="4" dy="6.5">+</tspan><tspan x="11" class="u">get(llvm::APInt&amp;): llvm::ConstantInt*</tspan><tspan x="4" dy="6.5">+</tspan><tspan x="11" class="u">get(ReturnCode): llvm::ConstantInt*</tspan></text></g>

<g id="n-Compiler" transform="translate(14,943)"><rect class="c" width="314" height="95" rx="3"/><text class="n" x="157" y="10.2">Compiler</text><path class="d" d="M0,14H314M0,58H314"/><text class="m"><tspan x="4" y="21">-</tspan><tspan x="11">m_builder: IRBuilder</tspan><tspan x="4" dy="6.6">-</tspan><tspan x="11">m_jumpTableBB: llvm::BasicBlock* = nullptr</tspan><tspan x="4" dy="6.6">-</tspan><tspan x="11">m_mainFunc: llvm::Function* = nullptr</tspan><tspan x="4" dy="6.6">-</tspan><tspan x="11">m_options: Options const&amp;</tspan><tspan x="4" dy="6.6">-</tspan><tspan x="11">m_rev: evm_revision</tspan><tspan x="4" dy="6.6">-</tspan><tspan x="11">m_staticCall: bool = false</tspan><tspan x="4" y="65">+</tspan><tspan x="11">compile(code_iterator, code_iterator, std::string&amp;): std::unique_ptr&lt;llvm::Module&gt;</tspan><tspan x="4" dy="6.5">-</tspan><tspan x="11">compileBasicBlock(BasicBlock&amp;, class RuntimeManager&amp;, class Arith256&amp;, class Memory&amp;, class Ext&amp;, class GasMeter&amp;): void</tspan><tspan x="4" dy="6.5">+</tspan><tspan x="11">Compiler(Options&amp;, evm_revision, bool, llvm::LLVMContext&amp;)</tspan><tspan x="4" dy="6.5">-</tspan><tspan x="11">createBasicBlocks(code_iterator, code_iterator): std::vector&lt;BasicBlock&gt;</tspan><tspan x="4" dy="6.5">-</tspan><tspan x="11">resolveJumps(): void</tspan></text></g>

<g id="n-CompilerHelper" transform="translate(354,961)"><rect class="c" width="122" height="60" rx="3"/><text class="n" x="61" y="8.6">CompilerHelper</text><path class="d" d="M0,12.5H122M0,23H122"/><text class="m"><tspan x="4" y="20">#</tspan><tspan x="11">m_builder: IRBuilder&amp;</tspan><tspan x="4" y="30">#</tspan><tspan x="11">CompilerHelper(IRBuilder&amp;)</tspan><tspan x="4" dy="6.6">#</tspan><tspan x="11">CompilerHelper(CompilerHelper&amp;)</tspan><tspan x="4" dy="6.6">#</tspan><tspan x="11">getMainFunction(): llvm::Function*</tspan><tspan x="4" dy="6.6">#</tspan><tspan x="11">getModule(): llvm::Module*</tspan><tspan x="4" dy="6.6">#</tspan><tspan x="11">operator=(CompilerHelper): CompilerHelper&amp;</tspan></text></g>

<g id="n-LazyFunction" transform="translate(518,966)"><rect class="c" width="201" height="48" rx="3"/><text class="n" x="100.5" y="10">LazyFunction</text><path class="d" d="M0,14H201M0,31H201"/><text class="m"><tspan x="4" y="21">-</tspan><tspan x="11">m_creator: Creator</tspan><tspan x="4" dy="6.6">-</tspan><tspan x="11">m_func: llvm::Function* = nullptr</tspan><tspan x="4" y="38">+</tspan><tspan x="11">call(IRBuilder&amp;, std::initializer_list&lt;llvm::Value*&gt;&amp;, llvm::Twine&amp;): llvm::Value*</tspan><tspan x="4" dy="6.6">+</tspan><tspan x="11">LazyFunction(Creator)</tspan></text></g>

<g id="n-i256" transform="translate(760,971)"><rect class="c" width="62" height="40" rx="3"/><text class="s" x="31" y="7.2">«struct»</text><text class="n" x="31" y="13.8">i256</text><path class="d" d="M0,16H62M0,29H62"/><text class="m"><tspan x="4" y="25">+</tspan><tspan x="11">words: uint64_t ([4])</tspan><tspan x="4" y="36">+</tspan><tspan x="11">i256()</tspan></text></g>

<g id="n-instr_idx" transform="translate(870,973)"><rect class="c" width="45" height="35" rx="3"/><text class="t" x="43" y="6.5">uint64_t</text><text class="s" x="22.5" y="17">«alias»</text><text class="n" x="22.5" y="23.5">instr_idx</text></g>

<g id="n-RuntimeManager" transform="translate(401,1056)"><rect class="c" width="171" height="362" rx="3"/><text class="n" x="85.5" y="9.3">RuntimeManager</text><path class="d" d="M0,13H171M0,136H171"/><text class="m"><tspan x="4" y="20">-</tspan><tspan x="11">m_codeBegin: code_iterator = {}</tspan><tspan x="4" dy="6.6">-</tspan><tspan x="11">m_codeEnd: code_iterator = {}</tspan><tspan x="4" dy="6.6">-</tspan><tspan x="11">m_codePtr: llvm::Value* = nullptr</tspan><tspan x="4" dy="6.6">-</tspan><tspan x="11">m_dataElts: std::array&lt;llvm::Value*,RuntimeData::numElements&gt;</tspan><tspan x="4" dy="6.6">-</tspan><tspan x="11">m_dataPtr: llvm::Value* = nullptr</tspan><tspan x="4" dy="6.6">-</tspan><tspan x="11">m_envPtr: llvm::Value* = nullptr</tspan><tspan x="4" dy="6.6">-</tspan><tspan x="11">m_exitBB: llvm::BasicBlock* = nullptr</tspan><tspan x="4" dy="6.6">-</tspan><tspan x="11">m_gasPtr: llvm::Value* = nullptr</tspan><tspan x="4" dy="6.6">-</tspan><tspan x="11">m_jmpBuf: llvm::Value* = nullptr</tspan><tspan x="4" dy="6.6">-</tspan><tspan x="11">m_loadTxCtxFn: llvm::Function* = nullptr</tspan><tspan x="4" dy="6.6">-</tspan><tspan x="11">m_memPtr: llvm::Value* = nullptr</tspan><tspan x="4" dy="6.6">-</tspan><tspan x="11">m_returnBufDataPtr: llvm::Value* = nullptr</tspan><tspan x="4" dy="6.6">-</tspan><tspan x="11">m_returnBufSizePtr: llvm::Value* = nullptr</tspan><tspan x="4" dy="6.6">-</tspan><tspan x="11">m_stackBase: llvm::Value* = nullptr</tspan><tspan x="4" dy="6.6">-</tspan><tspan x="11">m_stackSize: llvm::Value* = nullptr</tspan><tspan x="4" dy="6.6">-</tspan><tspan x="11">m_txCtx: llvm::Value* = nullptr</tspan><tspan x="4" dy="6.6">-</tspan><tspan x="11">m_txCtxLoaded: llvm::Value* = nullptr</tspan><tspan x="4" dy="6.6">+</tspan><tspan x="11" class="u">stackSizeLimit: size_t = 1024 {readOnly}</tspan><tspan x="4" y="143">+</tspan><tspan x="11">abort(llvm::Value*): void</tspan><tspan x="4" dy="6.57">+</tspan><tspan x="11">exit(ReturnCode): void</tspan><tspan x="4" dy="6.57">+</tspan><tspan x="11">getAddress(): llvm::Value*</tspan><tspan x="4" dy="6.57">+</tspan><tspan x="11">getCallData(): llvm::Value*</tspan><tspan x="4" dy="6.57">+</tspan><tspan x="11">getCallDataSize(): llvm::Value*</tspan><tspan x="4" dy="6.57">+</tspan><tspan x="11">getCode(): llvm::Value*</tspan><tspan x="4" dy="6.57">+</tspan><tspan x="11">getCodeSize(): llvm::Value*</tspan><tspan x="4" dy="6.57">+</tspan><tspan x="11">getDataPtr(): llvm::Value*</tspan><tspan x="4" dy="6.57">+</tspan><tspan x="11">getDepth(): llvm::Value*</tspan><tspan x="4" dy="6.57">+</tspan><tspan x="11">getEnvPtr(): llvm::Value*</tspan><tspan x="4" dy="6.57">+</tspan><tspan x="11">getGas(): llvm::Value*</tspan><tspan x="4" dy="6.57">+</tspan><tspan x="11">getGasPtr(): llvm::Value*</tspan><tspan x="4" dy="6.57">+</tspan><tspan x="11">getJmpBuf(): llvm::Value*</tspan><tspan x="4" dy="6.57">+</tspan><tspan x="11">getMem(): llvm::Value*</tspan><tspan x="4" dy="6.57">-</tspan><tspan x="11">getPtr(RuntimeData::Index): llvm::Value*</tspan><tspan x="4" dy="6.57">+</tspan><tspan x="11">getReturnBufDataPtr(): llvm::Value* {query}</tspan><tspan x="4" dy="6.57">+</tspan><tspan x="11">getReturnBufSizePtr(): llvm::Value* {query}</tspan><tspan x="4" dy="6.57">+</tspan><tspan x="11" class="u">getRuntimeDataType(): llvm::StructType*</tspan><tspan x="4" dy="6.57">+</tspan><tspan x="11">getRuntimePtr(): llvm::Value*</tspan><tspan x="4" dy="6.57">+</tspan><tspan x="11" class="u">getRuntimeType(): llvm::StructType*</tspan><tspan x="4" dy="6.57">+</tspan><tspan x="11">getSender(): llvm::Value*</tspan><tspan x="4" dy="6.57">+</tspan><tspan x="11">getStackBase(): llvm::Value* {query}</tspan><tspan x="4" dy="6.57">+</tspan><tspan x="11">getStackSize(): llvm::Value* {query}</tspan><tspan x="4" dy="6.57">+</tspan><tspan x="11">getTxContextItem(unsigned): llvm::Value*</tspan><tspan x="4" dy="6.57">+</tspan><tspan x="11">getTxContextType(): llvm::StructType*</tspan><tspan x="4" dy="6.57">+</tspan><tspan x="11">getValue(): llvm::Value*</tspan><tspan x="4" dy="6.57">+</tspan><tspan x="11">registerReturnData(llvm::Value*, llvm::Value*): void</tspan><tspan x="4" dy="6.57">+</tspan><tspan x="11">resetReturnBuf(): void</tspan><tspan x="4" dy="6.57">+</tspan><tspan x="11">RuntimeManager(IRBuilder&amp;, code_iterator, code_iterator)</tspan><tspan x="4" dy="6.57">-</tspan><tspan x="11">set(RuntimeData::Index, llvm::Value*): void</tspan><tspan x="4" dy="6.57">+</tspan><tspan x="11">setExitBB(llvm::BasicBlock*): void</tspan><tspan x="4" dy="6.57">+</tspan><tspan x="11">setGas(llvm::Value*): void</tspan><tspan x="4" dy="6.57">+</tspan><tspan x="11">setJmpBuf(llvm::Value*): void</tspan></text></g>

<g id="n-LocalStack" transform="translate(73,1164)"><rect class="c" width="115" height="142" rx="3"/><text class="n" x="57.5" y="10">LocalStack</text><path class="d" d="M0,14H115M0,58H115"/><text class="m"><tspan x="4" y="21">-</tspan><tspan x="11">m_globalPops: size_t = 0</tspan><tspan x="4" dy="6.6">-</tspan><tspan x="11">m_input: std::vector&lt;llvm::Value*&gt;</tspan><tspan x="4" dy="6.6">-</tspan><tspan x="11">m_local: std::vector&lt;llvm::Value*&gt;</tspan><tspan x="4" dy="6.6">-</tspan><tspan x="11">m_maxSize: size_t = 0</tspan><tspan x="4" dy="6.6">-</tspan><tspan x="11">m_minSize: size_t = 0</tspan><tspan x="4" dy="6.6">-</tspan><tspan x="11">m_sp: llvm::CallInst* = nullptr</tspan><tspan x="4" y="65">+</tspan><tspan x="11">dup(size_t): void</tspan><tspan x="4" dy="6.55">+</tspan><tspan x="11">finalize(): void</tspan><tspan x="4" dy="6.55">-</tspan><tspan x="11">get(size_t): llvm::Value*</tspan><tspan x="4" dy="6.55">-</tspan><tspan x="11">getStackPrepareFunc(): llvm::Function*</tspan><tspan x="4" dy="6.55">+</tspan><tspan x="11">LocalStack(IRBuilder&amp;, RuntimeManager&amp;)</tspan><tspan x="4" dy="6.55">+</tspan><tspan x="11">maxSize(): size_t {query}</tspan><tspan x="4" dy="6.55">+</tspan><tspan x="11">minSize(): size_t {query}</tspan><tspan x="4" dy="6.55">+</tspan><tspan x="11">pop(): llvm::Value*</tspan><tspan x="4" dy="6.55">+</tspan><tspan x="11">push(llvm::Value*): void</tspan><tspan x="4" dy="6.55">-</tspan><tspan x="11">set(size_t, llvm::Value*): void</tspan><tspan x="4" dy="6.55">+</tspan><tspan x="11">size(): size_t {query}</tspan><tspan x="4" dy="6.55">+</tspan><tspan x="11">swap(size_t): void</tspan></text></g>

<g id="n-Arith256" transform="translate(217,1181)"><rect class="c" width="153" height="107" rx="3"/><text class="n" x="76.5" y="9.2">Arith256</text><path class="d" d="M0,14H153M0,25H153"/><text class="m"><tspan x="4" y="21">-</tspan><tspan x="11">m_exp: llvm::Function* = nullptr</tspan><tspan x="4" y="31">+</tspan><tspan x="11">Arith256(IRBuilder&amp;)</tspan><tspan x="4" dy="6.6">+</tspan><tspan x="11" class="u">debug(llvm::Value*, char, llvm::Module&amp;, IRBuilder&amp;): void</tspan><tspan x="4" dy="6.6">+</tspan><tspan x="11">exp(llvm::Value*, llvm::Value*): llvm::Value*</tspan><tspan x="4" dy="6.6">-</tspan><tspan x="11">getExpFunc(): llvm::Function*</tspan><tspan x="4" dy="6.6">-</tspan><tspan x="11" class="u">getSDiv256Func(llvm::Module&amp;): llvm::Function*</tspan><tspan x="4" dy="6.6">-</tspan><tspan x="11" class="u">getSDivRem256Func(llvm::Module&amp;): llvm::Function*</tspan><tspan x="4" dy="6.6">-</tspan><tspan x="11" class="u">getSRem256Func(llvm::Module&amp;): llvm::Function*</tspan><tspan x="4" dy="6.6">-</tspan><tspan x="11" class="u">getUDiv256Func(llvm::Module&amp;): llvm::Function*</tspan><tspan x="4" dy="6.6">-</tspan><tspan x="11" class="u">getUDivRem256Func(llvm::Module&amp;): llvm::Function*</tspan><tspan x="4" dy="6.6">-</tspan><tspan x="11" class="u">getUDivRem512Func(llvm::Module&amp;): llvm::Function*</tspan><tspan x="4" dy="6.6">-</tspan><tspan x="11" class="u">getURem256Func(llvm::Module&amp;): llvm::Function*</tspan><tspan x="4" dy="6.6">-</tspan><tspan x="11" class="u">getURem512Func(llvm::Module&amp;): llvm::Function*</tspan></text></g>

<g id="n-RuntimeData" transform="translate(696,1187)"><rect class="c" width="88" height="95" rx="3"/><text class="s" x="44" y="8">«struct»</text><text class="n" x="44" y="14.3">RuntimeData</text><path class="d" d="M0,19H88"/><text class="m"><tspan x="4" y="26">+</tspan><tspan x="11">address: byte ([32])</tspan><tspan x="4" dy="6.63">+</tspan><tspan x="11">apparentValue: i256</tspan><tspan x="4" dy="6.63">+</tspan><tspan x="11">callData: byte const* = nullptr</tspan><tspan x="4" dy="6.63">+</tspan><tspan x="11">callDataSize: uint64_t = 0</tspan><tspan x="4" dy="6.63">+</tspan><tspan x="11">caller: byte ([32])</tspan><tspan x="4" dy="6.63">+</tspan><tspan x="11">code: byte const* = nullptr</tspan><tspan x="4" dy="6.63">+</tspan><tspan x="11">codeSize: uint64_t = 0</tspan><tspan x="4" dy="6.63">+</tspan><tspan x="11">depth: int64_t</tspan><tspan x="4" dy="6.63">+</tspan><tspan x="11">gas: int64_t = 0</tspan><tspan x="4" dy="6.63">+</tspan><tspan x="11">gasPrice: int64_t = 0</tspan><tspan x="4" dy="6.63">+</tspan><tspan x="11" class="u">numElements: size_t = Depth + 1</tspan></text></g>

<g id="n-BasicBlock" transform="translate(807,1194)"><rect class="c" width="172" height="82" rx="3"/><text class="n" x="86" y="10">BasicBlock</text><path class="d" d="M0,14H172M0,44H172"/><text class="m"><tspan x="4" y="21">-</tspan><tspan x="11">m_begin: code_iterator = {}</tspan><tspan x="4" dy="6.6">-</tspan><tspan x="11">m_end: code_iterator = {}</tspan><tspan x="4" dy="6.6">-</tspan><tspan x="11">m_firstInstrIdx: instr_idx = 0</tspan><tspan x="4" dy="6.6">-</tspan><tspan x="11">m_llvmBB: llvm::BasicBlock*</tspan><tspan x="4" y="51">+</tspan><tspan x="11">BasicBlock(instr_idx, code_iterator, code_iterator, llvm::Function*)</tspan><tspan x="4" dy="6.6">+</tspan><tspan x="11">begin(): code_iterator {query}</tspan><tspan x="4" dy="6.6">+</tspan><tspan x="11">end(): code_iterator {query}</tspan><tspan x="4" dy="6.6">+</tspan><tspan x="11">firstInstrIdx(): instr_idx {query}</tspan><tspan x="4" dy="6.6">+</tspan><tspan x="11">llvm(): llvm::BasicBlock*</tspan></text></g>

<g id="n-bytes_ref" transform="translate(999,1218)"><rect class="c" width="72" height="34" rx="3"/><text class="tl" x="1" y="6.5" textLength="70" lengthAdjust="spacingAndGlyphs">std::tuple&lt;byte const*, size_t&gt;</text><text class="s" x="36" y="16.5">«alias»</text><text class="n" x="36" y="23">bytes_ref</text></g>

<g id="n-ExecutionContext" transform="translate(1018,1467)"><rect class="c" width="135" height="126" rx="3"/><text class="n" x="67.5" y="8.8">ExecutionContext</text><path class="d" d="M0,12.5H135M0,63H135"/><text class="m"><tspan x="4" y="19.5">+</tspan><tspan x="11">m_ctx: evm_context* = nullptr</tspan><tspan x="4" dy="6.6">+</tspan><tspan x="11">m_data: RuntimeData* = nullptr</tspan><tspan x="4" dy="6.6">+</tspan><tspan x="11">m_memCap: uint64_t = 0</tspan><tspan x="4" dy="6.6">+</tspan><tspan x="11">m_memData: byte* = nullptr</tspan><tspan x="4" dy="6.6">+</tspan><tspan x="11">m_memSize: uint64_t = 0</tspan><tspan x="4" dy="6.6">+</tspan><tspan x="11">noexcept: int</tspan><tspan x="4" dy="6.6">+</tspan><tspan x="11">returnData: bytes_ref</tspan><tspan x="4" y="70">+</tspan><tspan x="11">code(): byte const* {query}</tspan><tspan x="4" dy="6.5">+</tspan><tspan x="11">codeSize(): uint64_t {query}</tspan><tspan x="4" dy="6.5">+</tspan><tspan x="11">ExecutionContext()</tspan><tspan x="4" dy="6.5">+</tspan><tspan x="11">ExecutionContext(RuntimeData&amp;, evm_context*)</tspan><tspan x="4" dy="6.5">+</tspan><tspan x="11">ExecutionContext(ExecutionContext&amp;)</tspan><tspan x="4" dy="6.5">+</tspan><tspan x="11">~ExecutionContext()</tspan><tspan x="4" dy="6.5">+</tspan><tspan x="11">getReturnData(): bytes_ref {query}</tspan><tspan x="4" dy="6.5">+</tspan><tspan x="11">init(RuntimeData&amp;, evm_context*): void</tspan><tspan x="4" dy="6.5">+</tspan><tspan x="11">operator=(ExecutionContext&amp;): ExecutionContext&amp;</tspan></text></g>

<g id="n-RuntimeHelper" transform="translate(145,1509)"><rect class="c" width="113" height="42" rx="3"/><text class="n" x="56.5" y="9">RuntimeHelper</text><path class="d" d="M0,13H113M0,24H113"/><text class="m"><tspan x="4" y="21">-</tspan><tspan x="11">m_runtimeManager: RuntimeManager&amp;</tspan><tspan x="4" y="31">#</tspan><tspan x="11">getRuntimeManager(): RuntimeManager&amp;</tspan><tspan x="4" dy="6.6">#</tspan><tspan x="11">RuntimeHelper(RuntimeManager&amp;)</tspan></text></g>

<g id="n-GasMeter" transform="translate(307,1463)"><rect class="c" width="155" height="133" rx="3"/><text class="n" x="77.5" y="9.3">GasMeter</text><path class="d" d="M0,14H155M0,51H155"/><text class="m"><tspan x="4" y="20.5">-</tspan><tspan x="11">m_blockCost: int64_t = 0</tspan><tspan x="4" dy="6.6">-</tspan><tspan x="11">m_checkCall: llvm::CallInst* = nullptr</tspan><tspan x="4" dy="6.6">-</tspan><tspan x="11">m_gasCheckFunc: llvm::Function* = nullptr</tspan><tspan x="4" dy="6.6">-</tspan><tspan x="11">m_rev: evm_revision</tspan><tspan x="4" dy="6.6">-</tspan><tspan x="11">m_runtimeManager: RuntimeManager&amp;</tspan><tspan x="4" y="57">+</tspan><tspan x="11">commitCostBlock(): void</tspan><tspan x="4" dy="6.6">+</tspan><tspan x="11">count(Instruction): void</tspan><tspan x="4" dy="6.6">+</tspan><tspan x="11">count(llvm::Value*, llvm::Value*, llvm::Value*): void</tspan><tspan x="4" dy="6.6">+</tspan><tspan x="11">countCopy(llvm::Value*): void</tspan><tspan x="4" dy="6.6">+</tspan><tspan x="11">countExp(llvm::Value*): void</tspan><tspan x="4" dy="6.6">+</tspan><tspan x="11">countLogData(llvm::Value*): void</tspan><tspan x="4" dy="6.6">+</tspan><tspan x="11">countMemory(llvm::Value*, llvm::Value*, llvm::Value*): void</tspan><tspan x="4" dy="6.6">+</tspan><tspan x="11">countSha3Data(llvm::Value*): void</tspan><tspan x="4" dy="6.6">+</tspan><tspan x="11">countSStore(class Ext&amp;, llvm::Value*, llvm::Value*): void</tspan><tspan x="4" dy="6.6">+</tspan><tspan x="11">GasMeter(IRBuilder&amp;, RuntimeManager&amp;, evm_revision)</tspan><tspan x="4" dy="6.6">-</tspan><tspan x="11">getStepCost(Instruction): int64_t {query}</tspan><tspan x="4" dy="6.6">+</tspan><tspan x="11">giveBack(llvm::Value*): void</tspan></text></g>

<g id="n-Array" transform="translate(557,1429)"><rect class="c" width="123" height="200" rx="3"/><text class="n" x="61.5" y="10">Array</text><path class="d" d="M0,14H123M0,71H123"/><text class="m"><tspan x="4" y="21">-</tspan><tspan x="11">m_array: llvm::Value* = nullptr</tspan><tspan x="4" dy="6.6">-</tspan><tspan x="11">m_extendFunc: LazyFunction = {[this](){ retu...</tspan><tspan x="4" dy="6.6">-</tspan><tspan x="11">m_freeFunc: LazyFunction = {[this](){ retu...</tspan><tspan x="4" dy="6.6">-</tspan><tspan x="11">m_getFunc: LazyFunction = {[this](){ retu...</tspan><tspan x="4" dy="6.6">-</tspan><tspan x="11">m_getPtrFunc: LazyFunction = {[this](){ retu...</tspan><tspan x="4" dy="6.6">-</tspan><tspan x="11">m_pushFunc: LazyFunction = {[this](){ retu...</tspan><tspan x="4" dy="6.6">-</tspan><tspan x="11">m_reallocFunc: LazyFunction = {[this](){ retu...</tspan><tspan x="4" dy="6.6">-</tspan><tspan x="11">m_setFunc: LazyFunction = {[this](){ retu...</tspan><tspan x="4" y="78">+</tspan><tspan x="11">Array(IRBuilder&amp;, char*)</tspan><tspan x="4" dy="6.6">+</tspan><tspan x="11">Array(IRBuilder&amp;, llvm::Value*)</tspan><tspan x="4" dy="6.6">-</tspan><tspan x="11">createArrayGetFunc(): llvm::Function*</tspan><tspan x="4" dy="6.6">-</tspan><tspan x="11">createArrayPushFunc(): llvm::Function*</tspan><tspan x="4" dy="6.6">-</tspan><tspan x="11">createArraySetFunc(): llvm::Function*</tspan><tspan x="4" dy="6.6">-</tspan><tspan x="11">createExtendFunc(): llvm::Function*</tspan><tspan x="4" dy="6.6">-</tspan><tspan x="11">createFreeFunc(): llvm::Function*</tspan><tspan x="4" dy="6.6">-</tspan><tspan x="11">createGetPtrFunc(): llvm::Function*</tspan><tspan x="4" dy="6.6">+</tspan><tspan x="11">extend(llvm::Value*, llvm::Value*): void</tspan><tspan x="4" dy="6.6">+</tspan><tspan x="11">free(): void</tspan><tspan x="4" dy="6.6">+</tspan><tspan x="11">get(llvm::Value*): llvm::Value*</tspan><tspan x="4" dy="6.6">+</tspan><tspan x="11">getPointerTo(): llvm::Value* {query}</tspan><tspan x="4" dy="6.6">+</tspan><tspan x="11">getPtr(llvm::Value*, llvm::Value*): llvm::Value*</tspan><tspan x="4" dy="6.6">-</tspan><tspan x="11">getReallocFunc(): llvm::Function*</tspan><tspan x="4" dy="6.6">+</tspan><tspan x="11" class="u">getType(): llvm::Type*</tspan><tspan x="4" dy="6.6">+</tspan><tspan x="11">pop(llvm::Value*): void</tspan><tspan x="4" dy="6.6">+</tspan><tspan x="11">push(llvm::Value*): void</tspan><tspan x="4" dy="6.6">+</tspan><tspan x="11">set(llvm::Value*, llvm::Value*): void</tspan><tspan x="4" dy="6.6">+</tspan><tspan x="11">size(llvm::Value*): llvm::Value*</tspan></text></g>

<g id="n-Memory" transform="translate(267,1642)"><rect class="c" width="235" height="161" rx="3"/><text class="n" x="117.5" y="10">Memory</text><path class="d" d="M0,15H235M0,59H235"/><text class="m"><tspan x="4" y="21.5">-</tspan><tspan x="11">m_gasMeter: GasMeter&amp;</tspan><tspan x="4" dy="6.6">-</tspan><tspan x="11">m_loadWord: llvm::Function* = nullptr</tspan><tspan x="4" dy="6.6">-</tspan><tspan x="11">m_memory: Array</tspan><tspan x="4" dy="6.6">-</tspan><tspan x="11">m_require: llvm::Function* = nullptr</tspan><tspan x="4" dy="6.6">-</tspan><tspan x="11">m_storeByte: llvm::Function* = nullptr</tspan><tspan x="4" dy="6.6">-</tspan><tspan x="11">m_storeWord: llvm::Function* = nullptr</tspan><tspan x="4" y="65.5">+</tspan><tspan x="11">copyBytes(llvm::Value*, llvm::Value*, llvm::Value*, llvm::Value*, llvm::Value*): void</tspan><tspan x="4" dy="6.6">+</tspan><tspan x="11">copyBytesNoPadding(llvm::Value*, llvm::Value*, llvm::Value*, llvm::Value*, llvm::Value*): void</tspan><tspan x="4" dy="6.6">-</tspan><tspan x="11">createFunc(bool, llvm::Type*): llvm::Function*</tspan><tspan x="4" dy="6.6">+</tspan><tspan x="11">getBytePtr(llvm::Value*): llvm::Value*</tspan><tspan x="4" dy="6.6">+</tspan><tspan x="11">getData(): llvm::Value*</tspan><tspan x="4" dy="6.6">-</tspan><tspan x="11">getLoadWordFunc(): llvm::Function*</tspan><tspan x="4" dy="6.6">-</tspan><tspan x="11">getRequireFunc(): llvm::Function*</tspan><tspan x="4" dy="6.6">+</tspan><tspan x="11">getSize(): llvm::Value*</tspan><tspan x="4" dy="6.6">-</tspan><tspan x="11">getStoreByteFunc(): llvm::Function*</tspan><tspan x="4" dy="6.6">-</tspan><tspan x="11">getStoreWordFunc(): llvm::Function*</tspan><tspan x="4" dy="6.6">+</tspan><tspan x="11">loadWord(llvm::Value*): llvm::Value*</tspan><tspan x="4" dy="6.6">+</tspan><tspan x="11">Memory(RuntimeManager&amp;, GasMeter&amp;)</tspan><tspan x="4" dy="6.6">+</tspan><tspan x="11">require(llvm::Value*, llvm::Value*): void</tspan><tspan x="4" dy="6.6">+</tspan><tspan x="11">storeByte(llvm::Value*, llvm::Value*): void</tspan><tspan x="4" dy="6.6">+</tspan><tspan x="11">storeWord(llvm::Value*, llvm::Value*): void</tspan></text></g>

<g id="n-ExecStats" transform="translate(3578,955)"><rect class="c" width="135" height="58" rx="3"/><text class="n" x="67.5" y="10">ExecStats</text><path class="d" d="M0,14H135M0,44H135"/><text class="m"><tspan x="4" y="21">+</tspan><tspan x="11">id: std::string</tspan><tspan x="4" dy="6.6">-</tspan><tspan x="11">m_state: ExecState = {}</tspan><tspan x="4" dy="6.6">-</tspan><tspan x="11">m_tp: time_point = {}</tspan><tspan x="4" dy="6.6">+</tspan><tspan x="11">time: duration ([(int)ExecState::Finished]) = {}</tspan><tspan x="4" y="51.5">+</tspan><tspan x="11">stateChanged(ExecState): void</tspan></text></g>

<g id="n-StatsAgg" transform="translate(3485,1200)"><rect class="c" width="148" height="66" rx="3"/><text class="s" x="74" y="8">«struct»</text><text class="n" x="74" y="14.3">StatsAgg</text><path class="d" d="M0,18.5H148M0,48H148"/><text class="m"><tspan x="4" y="25">+</tspan><tspan x="11">count: size_t = 0</tspan><tspan x="4" dy="6.6">+</tspan><tspan x="11">max: ExecStats::duration = ExecStats::duration::zero()</tspan><tspan x="4" dy="6.6">+</tspan><tspan x="11">min: ExecStats::duration = ExecStats::duration::max()</tspan><tspan x="4" dy="6.6">+</tspan><tspan x="11">tot: ExecStats::duration = ExecStats::duration::zero()</tspan><tspan x="4" y="55">+</tspan><tspan x="11">output(char const*, std::ostream&amp;): void</tspan><tspan x="4" dy="6.6">+</tspan><tspan x="11">update(ExecStats::duration): void</tspan></text></g>
</g>

<g id="connectors">
<path class="k oa" d="M185,943L308,489"/>
<path class="k oa" d="M409,961L318,489"/>
<path class="k tr" d="M188,1185L373,1021"/>
<path class="k tr" d="M202,1509L202,1234L383,1021"/>
<path class="k tr" d="M320,1181L396,1021"/>
<path class="k tr" d="M384,1463L385,1310L411,1021"/>
<path class="k tr" d="M434,1056L425,1021"/>
<path class="k tr" d="M606,1429L589,1235L441,1021"/>
<path class="k oa" d="M617,966L590,489"/>
<path class="k oa" d="M609,1429L599,1235L616,1014"/>
<path class="k oa" d="M612,1429L608,1235L618,1014"/>
<path class="k oa" d="M615,1429L615,1235L619,1014"/>
<path class="k oa" d="M618,1429L621,1235L620,1014"/>
<path class="k oa" d="M621,1429L629,1235L621,1014"/>
<path class="k oa" d="M624,1429L641,1235L622,1014"/>
<path class="k oa" d="M628,1429L649,1235L624,1014"/>
<path class="k oa" d="M632,1429L660,1235L626,1014"/>
<path class="k oa" d="M494,1056L494,990L658,489"/>
<path class="k oa" d="M502,1056L502,990L662,489"/>
<path class="k oa" d="M884,1194L676,489"/>
<path class="k oa" d="M887,1194L680,489"/>
<path class="k oa" d="M893,1194L893,1008"/>
<path class="k oa" d="M737,1187L738,489"/>
<path class="k oa" d="M740,1187L741,489"/>
<path class="k oa" d="M750,1187L787,1011"/>
<path class="k oa" d="M1018,1467L784,1276"/>
<path class="k oa" d="M1075,1467L1078,1252"/>
<path class="k oa" d="M1086,1467L1086,985L750,489"/>
<path class="k oa" d="M407,1463L421,1418"/>
<path class="k oa" d="M222,1509L401,1327"/>
<path class="k tr" d="M308,1642L224,1551"/>
<path class="k oa" d="M384,1642L384,1596"/>
<path class="k oa" d="M482,1642L557,1582"/>
<path class="k oa" d="M3532,1200L3532,489"/>
<path class="k oa" d="M3536,1200L3536,489"/>
<path class="k oa" d="M3600,955L3542,489"/>
<path class="k oa" d="M3625,955L3613,513"/>
<path class="k oa" d="M3662,955L3675,489"/>
<path class="k tr" d="M3700,955L3760,504"/>
<text class="lr" x="306" y="509">-m_builder</text>
<text class="lr" x="587" y="509">-m_creator</text>
<text class="lr" x="656" y="509">-m_codeBegin</text>
<text class="lr" x="676" y="509">-m_end</text>
<text class="lr" x="736" y="509">+caller</text>
<text class="l" x="743" y="509">Data</text>
<text class="lr" x="785" y="1019">+apparentValue</text>
<text class="lr" x="891" y="1016">-m_firstInstrIdx</text>
<text class="lr" x="616" y="1023">-m_getPtrFunc</text>
<text class="l" x="787" y="1269">+m_data</text>
<text class="l" x="1004" y="1260">+returnData</text>
<text class="lr" x="420" y="1424">-m_runtimeManager</text>
<text class="lr" x="399" y="1320">-m_runtimeManager</text>
<text class="lr" x="382" y="1605">-m_gasMeter</text>
<text class="lr" x="556" y="1577">-m_memory</text>
<text class="lr" x="3530" y="499">+time</text>
<text class="l" x="3585" y="520">-m_state</text>
<text class="lr" x="3673" y="499">-m_tp</text>
</g>
</svg>
